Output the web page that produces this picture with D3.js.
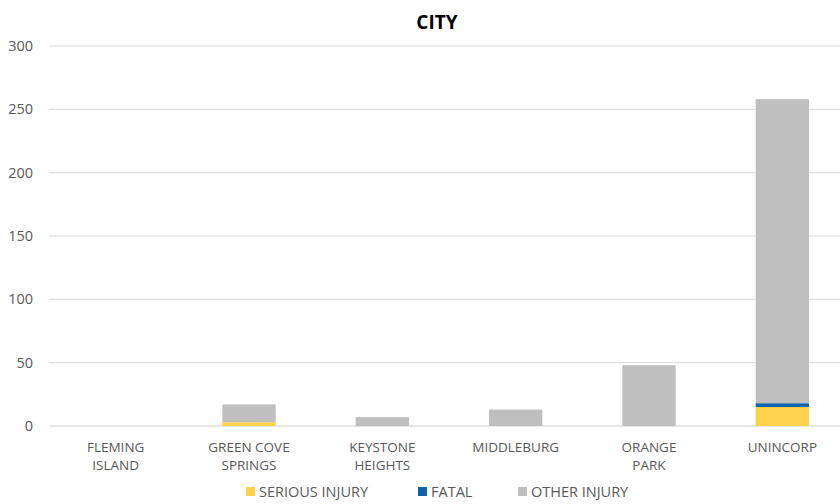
<!DOCTYPE html>
<html><head><meta charset="utf-8">
<script src="https://cdn.jsdelivr.net/npm/d3@7"></script>
<style>body{margin:0;background:#fff}svg{display:block}</style>
</head><body>
<svg id="c" width="840" height="504"></svg>
<script>
const categories = [["FLEMING","ISLAND"],["GREEN COVE","SPRINGS"],["KEYSTONE","HEIGHTS"],["MIDDLEBURG"],["ORANGE","PARK"],["UNINCORP"]];
const seriousInjury = [0, 3, 0, 0, 0, 15];
const fatal = [0, 0, 0, 0, 0, 3];
const otherInjury = [0, 14, 7, 13, 48, 240];
const seriesNames = ["SERIOUS INJURY", "FATAL", "OTHER INJURY"];
const seriesColors = ["#FFD24E", "#0F63AD", "#BFBFBF"];
const yTicks = [0, 50, 100, 150, 200, 250, 300];

const svg = d3.select("#c");
const font = "'Open Sans', sans-serif";
const x = d3.scaleBand().domain(d3.range(categories.length)).range([49, 849]).paddingInner(0.6).paddingOuter(0.3);
const y = d3.scaleLinear().domain([0, 300]).range([426, 46]);

// gridlines
svg.append("g").selectAll("line").data(yTicks).join("line")
  .attr("x1", 49).attr("x2", 840).attr("y1", d => y(d)).attr("y2", d => y(d))
  .attr("stroke", d => d === 0 ? "#D0D0D0" : "#D9D9D9").attr("stroke-width", 1);

// y labels
svg.append("g").selectAll("text").data(yTicks).join("text")
  .attr("x", 33).attr("y", d => y(d)).attr("dy", "0.35em").attr("text-anchor", "end")
  .attr("font-family", font).attr("font-size", 14.5).attr("fill", "#595959").text(d => d);

// stack
const rows = categories.map((c, i) => ({i, s: seriousInjury[i], f: fatal[i], o: otherInjury[i]}));
const stack = d3.stack().keys(["s", "f", "o"])(rows);
svg.append("g").selectAll("g").data(stack).join("g")
  .attr("fill", (d, k) => seriesColors[k])
  .selectAll("rect").data(d => d).join("rect")
  .attr("x", d => x(d.data.i)).attr("width", x.bandwidth())
  .attr("y", d => y(d[1])).attr("height", d => y(d[0]) - y(d[1]));

// category labels
const cl = svg.append("g").selectAll("text").data(categories).join("text")
  .attr("text-anchor", "middle").attr("font-family", font).attr("font-size", 13.5).attr("fill", "#595959");
cl.each(function(d, i) {
  const t = d3.select(this);
  d.forEach((line, j) => t.append("tspan").attr("x", x(i) + x.bandwidth() / 2).attr("y", 452 + j * 18).text(line));
});

// title
svg.append("text").attr("x", 437).attr("y", 29).attr("text-anchor", "middle")
  .attr("font-family", font).attr("font-size", 19).attr("font-weight", "bold").attr("fill", "#000").text("CITY");

// legend
const legX = [246, 418, 518];
const lg = svg.append("g").selectAll("g").data(seriesNames).join("g")
  .attr("transform", (d, k) => `translate(${legX[k]},487)`);
lg.append("rect").attr("width", 9).attr("height", 9).attr("fill", (d, k) => seriesColors[k]);
lg.append("text").attr("x", 13).attr("y", 4.5).attr("dy", "0.36em")
  .attr("font-family", font).attr("font-size", 14.5).attr("fill", "#595959").text(d => d);
</script>
</body></html>
